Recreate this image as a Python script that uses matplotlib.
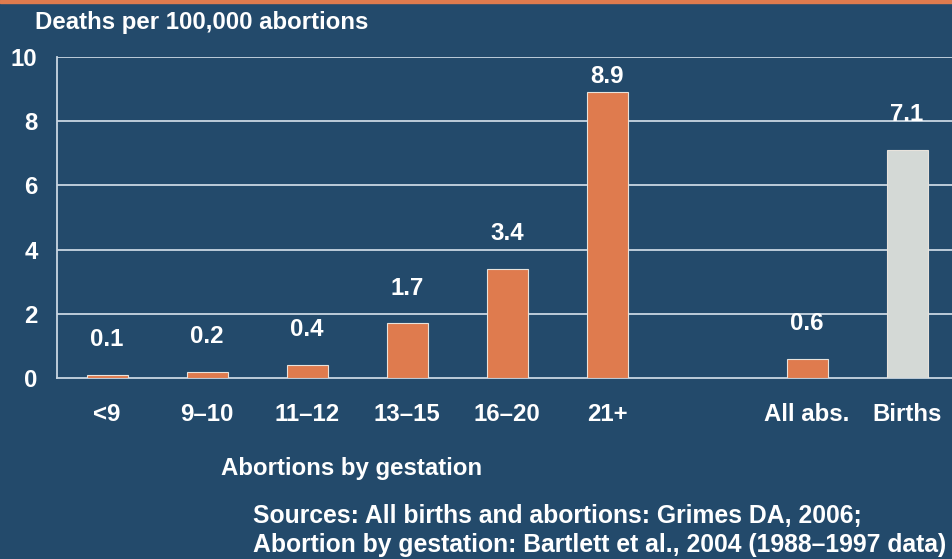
import matplotlib
matplotlib.use("Agg")
import matplotlib.pyplot as plt
from matplotlib.patches import Rectangle

categories = ["<9", "9\u201310", "11\u201312", "13\u201315", "16\u201320", "21+", "All abs.", "Births"]
positions = [0, 1, 2, 3, 4, 5, 7, 8]
values = [0.1, 0.2, 0.4, 1.7, 3.4, 8.9, 0.6, 7.1]
labels = ["0.1", "0.2", "0.4", "1.7", "3.4", "8.9", "0.6", "7.1"]
yticks = [0, 2, 4, 6, 8, 10]

BG = "#234a6b"
ORANGE = "#df7b4e"
GRAY = "#d4d9d6"
LINE = "#c9d6e2"
FS = 17.3

plt.rcParams["font.family"] = ["Liberation Sans", "DejaVu Sans"]
plt.rcParams["font.weight"] = "bold"

fig = plt.figure(figsize=(9.52, 5.59), dpi=100, facecolor=BG)
ax = fig.add_axes([57/952, (559-378)/559, 1 - 57/952, (378-57)/559])
ax.set_facecolor(BG)

colors = [ORANGE]*7 + [GRAY]
ax.bar(positions, values, width=0.41, color=colors, edgecolor="#e8e3dc", linewidth=0.8, zorder=3)

for p, v, t in zip(positions, values, labels):
    ax.text(p, min(v + 1.1, 9.4), t, ha="center", va="center", color="white",
            fontsize=FS, fontweight="bold", zorder=4)

ax.set_xlim(-0.5, 8.45)
ax.set_ylim(0, 10)
ax.set_yticks(yticks)
ax.set_yticklabels([str(y) for y in yticks])
ax.set_xticks(positions)
ax.set_xticklabels(categories)
ax.tick_params(axis="y", length=0, pad=14, labelsize=FS, labelcolor="white")
ax.tick_params(axis="x", length=0, pad=18, labelsize=FS, labelcolor="white")
for lab in ax.get_xticklabels() + ax.get_yticklabels():
    lab.set_fontweight("bold")

for y in yticks[1:]:
    ax.axhline(y, color=LINE, linewidth=1.3, zorder=1)
for s in ["top", "right"]:
    ax.spines[s].set_visible(False)
for s in ["left", "bottom"]:
    ax.spines[s].set_color(LINE)
    ax.spines[s].set_linewidth(1.3)

fig.patches.append(Rectangle((0, 1 - 3/559), 1, 3/559, transform=fig.transFigure,
                             color=ORANGE, zorder=5))

fig.text(35/952, 1 - 22/559, "Deaths per 100,000 abortions", ha="left", va="center",
         color="white", fontsize=FS, fontweight="bold")
fig.text(221/952, 1 - 468/559, "Abortions by gestation", ha="left", va="center",
         color="white", fontsize=FS, fontweight="bold")
fig.text(253/952, 1 - 516/559, "Sources: All births and abortions: Grimes DA, 2006;",
         ha="left", va="center", color="white", fontsize=17.8, fontweight="bold")
fig.text(253/952, 1 - 545/559, "Abortion by gestation: Bartlett et al., 2004 (1988\u20131997 data)",
         ha="left", va="center", color="white", fontsize=17.8, fontweight="bold")

fig.savefig("out.png", dpi=100, facecolor=BG)
